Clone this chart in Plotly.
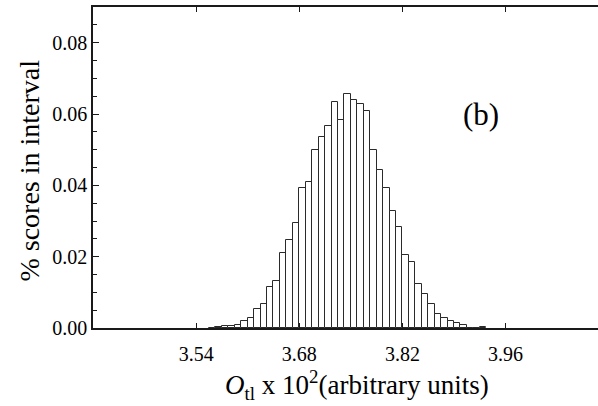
import numpy as np
import plotly.graph_objects as go

# Histogram of O_tl scores: bins of width 0.00875 starting at 3.5575
bin_start = 3.5575
bin_width = 0.00875
freq = [
    0.0001, 0.0003, 0.0005, 0.0007, 0.00095, 0.0020, 0.0029, 0.0052, 0.0068,
    0.0114, 0.0132, 0.0209, 0.0247, 0.0294, 0.0392, 0.0408, 0.0498, 0.0536,
    0.0567, 0.0634, 0.0584, 0.0655, 0.0639, 0.0627, 0.0608, 0.0499, 0.0444,
    0.0392, 0.0329, 0.0283, 0.0205, 0.0184, 0.0123, 0.0096, 0.0067, 0.0038,
    0.0029, 0.0019, 0.0014, 0.0008, 0.0, 0.0, 0.0002,
]
x_ticks = [3.54, 3.68, 3.82, 3.96]
y_ticks = [0.00, 0.02, 0.04, 0.06, 0.08]
panel_label = "(b)"

centers = bin_start + bin_width * (np.arange(len(freq)) + 0.5)

FONT = "Liberation Serif"
AX = "#1a1a1a"

fig = go.Figure(
    go.Bar(
        x=centers,
        y=freq,
        width=bin_width,
        marker=dict(color="white", line=dict(color="#2a2a2a", width=1)),
        showlegend=False,
    )
)

fig.update_layout(
    width=598,
    height=406,
    margin=dict(l=93, r=0, t=7, b=78),
    paper_bgcolor="white",
    plot_bgcolor="white",
    bargap=0,
    font=dict(family=FONT, size=20, color="black"),
)

fig.update_xaxes(
    range=[3.40, 4.0855],
    tickvals=x_ticks,
    ticktext=[f"{v:.2f}" for v in x_ticks],
    ticks="inside",
    ticklen=5,
    tickwidth=1,
    tickcolor=AX,
    showline=True,
    linecolor=AX,
    linewidth=1.5,
    mirror="ticks",
    showgrid=False,
    zeroline=False,
    ticklabelstandoff=7,
    tickfont=dict(family=FONT, size=20, color="black"),
)

fig.update_yaxes(
    range=[0, 0.09],
    tickvals=y_ticks,
    ticktext=[f"{v:.2f}" for v in y_ticks],
    ticks="inside",
    ticklen=6,
    tickwidth=1,
    tickcolor=AX,
    minor=dict(dtick=0.005, ticks="inside", ticklen=4, tickcolor=AX, tickwidth=1),
    showline=True,
    linecolor=AX,
    linewidth=1.5,
    mirror=False,
    showgrid=False,
    zeroline=False,
    tickfont=dict(family=FONT, size=20, color="black"),
)

fig.add_annotation(
    text="% scores in interval",
    xref="paper", yref="paper",
    x=-0.125, y=0.49,
    xanchor="center", yanchor="middle",
    textangle=-90,
    showarrow=False,
    font=dict(family=FONT, size=28, color="black"),
)

fig.add_annotation(
    text="<i>O</i><sub>tl</sub> x 10<sup>2</sup>(arbitrary units)",
    xref="paper", yref="paper",
    x=0.523, y=-0.178,
    xanchor="center", yanchor="middle",
    showarrow=False,
    font=dict(family=FONT, size=27, color="black"),
)

fig.add_annotation(
    text=panel_label,
    xref="x", yref="y",
    x=3.926, y=0.0598,
    xanchor="center", yanchor="middle",
    showarrow=False,
    font=dict(family=FONT, size=31, color="black"),
)

fig.write_html("out.html")
